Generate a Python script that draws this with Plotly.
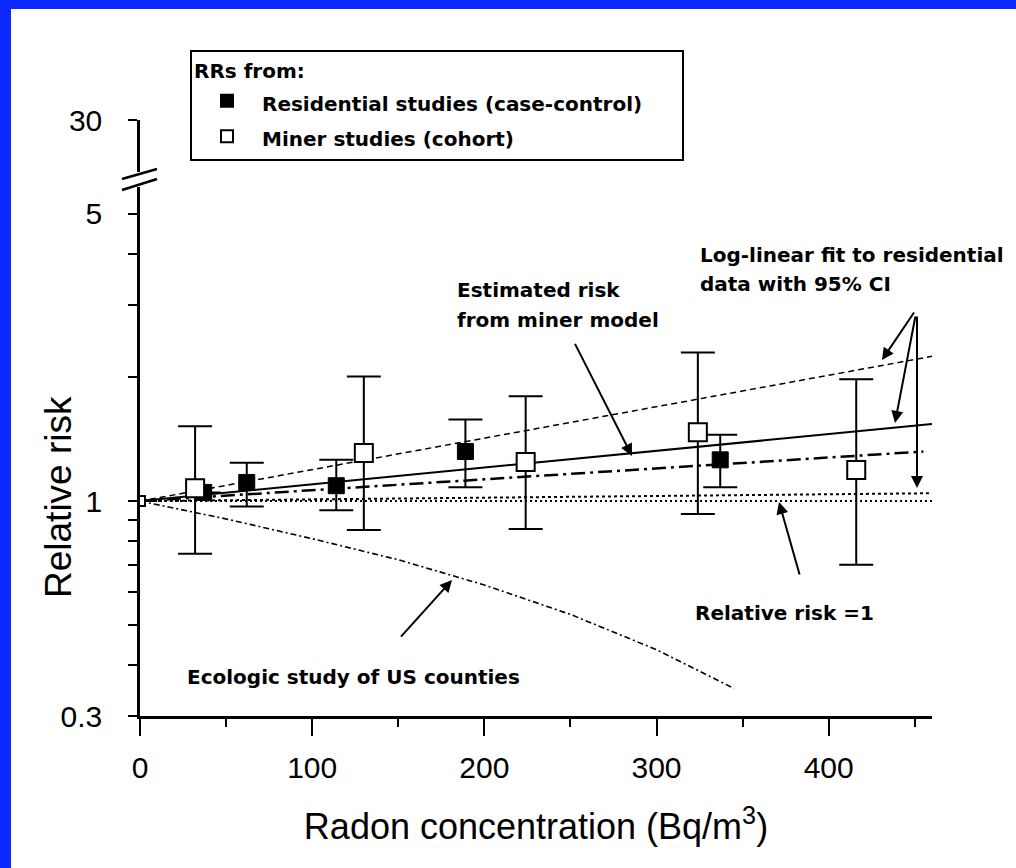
import math
import plotly.graph_objects as go

# ---------------- data ----------------
res_x = [37, 62, 114, 189, 337]
res_y = [1.05, 1.11, 1.09, 1.32, 1.26]
res_hi = [None, 1.24, 1.26, 1.58, 1.45]
res_lo = [None, 0.97, 0.95, 1.08, 1.08]

min_x = [32, 130, 224, 324, 416]
min_y = [1.075, 1.31, 1.245, 1.47, 1.19]
min_hi = [1.52, 2.01, 1.80, 2.30, 1.98]
min_lo = [0.745, 0.85, 0.855, 0.93, 0.70]

ref_x = [0]
ref_y = [1.0]

miner_model_x = [0, 230, 460]
miner_model_y = [1.0, 1.24, 1.54]
fit_x = [0, 455]
fit_y = [1.0, 1.32]
fit_hi_x = [0, 460]
fit_hi_y = [1.0, 2.25]
fit_lo_x = [0, 460]
fit_lo_y = [1.0, 1.045]
rr1_x = [0, 460]
rr1_y = [1.0, 1.0]
eco_x = [0, 50, 100, 150, 200, 250, 300, 345]
eco_y = [1.0, 0.905, 0.81, 0.72, 0.625, 0.53, 0.435, 0.35]

x_ticks = [0, 100, 200, 300, 400]
x_minor = [50, 150, 250, 350, 450]
y_ticks = [0.3, 1, 5]
y_tick_text = ["0.3", "1", "5"]
y_minor = [0.4, 0.5, 0.6, 0.7, 0.8, 0.9, 2, 3, 4]
y_top_ticks = [30]
y_top_text = ["30"]

# ---------------- geometry helpers (layout only) ----------------
L, T, R, B = 140, 120, 84, 152
W, H = 1016, 868
PW, PH = W - L - R, H - T - B
X_MAX = 460
PX_DEC = 411.0
Y_BOTTOM_PX = 716
MAIN_TOP_PX = 187
UP_BOT_PX = 172
ylo = math.log10(0.3)
yhi = ylo + (Y_BOTTOM_PX - MAIN_TOP_PX) / PX_DEC
BLUE = "rgb(12,40,255)"


def xd(px):
    return (px - L) * X_MAX / PW


def yl(py):
    return ylo + (Y_BOTTOM_PX - py) / PX_DEC


def xp(px):
    return (px - L) / PW


def yp(py):
    return (Y_BOTTOM_PX - py) / PH


def errs(y, hi, lo):
    up = [None if h is None else h - v for v, h in zip(y, hi)]
    dn = [None if l is None else v - l for v, l in zip(y, lo)]
    return up, dn


fig = go.Figure()

line_specs = [
    (eco_x, eco_y, dict(color="black", width=1.6, dash="6px,3px,2px,3px")),
    (rr1_x, rr1_y, dict(color="black", width=2, dash="2px,3px")),
    (fit_lo_x, fit_lo_y, dict(color="black", width=2, dash="3px,3px")),
    (fit_hi_x, fit_hi_y, dict(color="black", width=1.5, dash="6px,4px")),
    (fit_x, fit_y, dict(color="black", width=2.5, dash="14px,5px,3px,5px")),
    (miner_model_x, miner_model_y, dict(color="black", width=2)),
]
for xs, ys, ln in line_specs:
    fig.add_trace(go.Scatter(x=xs, y=ys, mode="lines", line=ln,
                             showlegend=False, hoverinfo="skip"))

NB = "\u00a0"
up, dn = errs(res_y, res_hi, res_lo)
fig.add_trace(go.Scatter(
    x=res_x, y=res_y, mode="markers",
    name="<span style='font-size:20px'>Residential studies (case-control)"
         + NB * 5 + "</span>",
    marker=dict(symbol="square", size=16, color="black",
                line=dict(color="black", width=1)),
    error_y=dict(type="data", symmetric=False, array=up, arrayminus=dn,
                 color="black", thickness=2, width=17),
))
up, dn = errs(min_y, min_hi, min_lo)
fig.add_trace(go.Scatter(
    x=min_x, y=min_y, mode="markers",
    name="<span style='font-size:20px'>Miner studies (cohort)</span>",
    marker=dict(symbol="square", size=18, color="white",
                line=dict(color="black", width=2)),
    error_y=dict(type="data", symmetric=False, array=up, arrayminus=dn,
                 color="black", thickness=2, width=17),
))
fig.add_trace(go.Scatter(
    x=ref_x, y=ref_y, mode="markers", showlegend=False, hoverinfo="skip",
    marker=dict(symbol="square", size=10, color="white",
                line=dict(color="black", width=2)),
))
# empty trace so the upper (broken) part of the y axis is drawn
fig.add_trace(go.Scatter(x=[], y=[], yaxis="y2", mode="markers",
                         showlegend=False, hoverinfo="skip"))

ann_font = dict(family="DejaVu Sans", size=20, color="black", weight="bold")
texts = [
    ("Estimated risk", 455, 290),
    ("from miner model", 455, 320),
    ("Log-linear fit to residential", 698, 255),
    ("data with 95% CI", 698, 284),
    ("Relative risk =1", 693, 613),
    ("Ecologic study of US counties", 185, 677),
]
annotations = []
for t, px, py in texts:
    annotations.append(dict(text=t, x=xd(px), y=yl(py), xref="x", yref="y",
                            xanchor="left", yanchor="middle", showarrow=False,
                            font=ann_font))

arrows = [
    ((572, 338), (632, 456)),
    ((917, 308), (882, 360)),
    ((917, 308), (895, 423)),
    ((917, 308), (917, 488)),
    ((802, 583), (779, 502)),
    ((398, 640), (452, 580)),
]
for (tx, ty), (hx, hy) in arrows:
    annotations.append(dict(text=" ", x=xd(hx), y=yl(hy), ax=xd(tx), ay=yl(ty),
                            xref="x", yref="y", axref="x", ayref="y",
                            showarrow=True, arrowhead=2, arrowsize=1.2,
                            arrowwidth=2, arrowcolor="black",
                            standoff=0, startstandoff=0))

annotations.append(dict(text="Relative risk", textangle=-90,
                        x=xp(58), y=yp(497), xref="paper", yref="paper",
                        xanchor="center", yanchor="middle", showarrow=False,
                        font=dict(family="Liberation Sans, Arial", size=37,
                                  color="black")))

shapes = [
    dict(type="rect", xref="paper", yref="paper", x0=xp(11), x1=xp(1100),
         y0=yp(1000), y1=yp(9), fillcolor="white", line=dict(width=0),
         layer="below"),
    dict(type="line", xref="paper", yref="paper", x0=xp(122), y0=yp(179),
         x1=xp(157), y1=yp(169), line=dict(color="black", width=2.5)),
    dict(type="line", xref="paper", yref="paper", x0=xp(122), y0=yp(190),
         x1=xp(157), y1=yp(179), line=dict(color="black", width=2.5)),
]

tick_font = dict(family="Liberation Sans, Arial", size=30, color="black")

fig.update_layout(
    width=W, height=H,
    margin=dict(l=L, r=R, t=T, b=B, autoexpand=False),
    paper_bgcolor=BLUE,
    plot_bgcolor="white",
    font=dict(family="Liberation Sans, Arial", color="black"),
    showlegend=True,
    legend=dict(
        x=xp(190), y=yp(50), xanchor="left", yanchor="top",
        bgcolor="white", bordercolor="black", borderwidth=2,
        font=dict(family="DejaVu Sans", size=25, color="black", weight="bold"),
        title=dict(text="RRs from:", font=dict(family="DejaVu Sans", size=20,
                                                  color="black", weight="bold")),
        itemsizing="constant", itemwidth=60,
    ),
    xaxis=dict(
        range=[0, X_MAX], showline=True, linecolor="black", linewidth=2.5,
        showgrid=False, zeroline=False, ticks="outside", tickvals=x_ticks,
        ticklen=17, tickwidth=2, tickcolor="black", tickfont=tick_font,
        ticklabelstandoff=6,
        minor=dict(tickvals=x_minor, ticks="outside", ticklen=8, tickwidth=2,
                   tickcolor="black"),
        title=dict(text="Radon concentration (Bq/m<sup>3</sup>)",
                   font=dict(family="Liberation Sans, Arial", size=36,
                             color="black"), standoff=32),
        automargin=False,
    ),
    yaxis=dict(
        type="log", range=[ylo, yhi], domain=[0, yp(MAIN_TOP_PX)],
        showline=True, linecolor="black", linewidth=2.5, showgrid=False,
        zeroline=False, ticks="outside", tickvals=y_ticks,
        ticktext=y_tick_text, ticklen=9, tickwidth=2, tickcolor="black",
        tickfont=tick_font, ticklabelstandoff=20, anchor="x",
        minor=dict(tickvals=y_minor, ticks="outside", ticklen=9, tickwidth=2,
                   tickcolor="black"),
        automargin=False,
    ),
    yaxis2=dict(
        type="log", range=[math.log10(30) - (UP_BOT_PX - T) / PX_DEC,
                           math.log10(30) + 0.0008],
        domain=[yp(UP_BOT_PX), 1], anchor="x",
        showline=True, linecolor="black", linewidth=2.5, showgrid=False,
        zeroline=False, ticks="outside", tickvals=y_top_ticks,
        ticktext=y_top_text, ticklen=9, tickwidth=2, tickcolor="black",
        tickfont=tick_font, ticklabelstandoff=20, automargin=False,
    ),
    yaxis3=dict(
        type="log", range=[ylo, yhi], overlaying="y", anchor="x", side="left",
        showline=False, showgrid=False, zeroline=False, ticks="outside",
        tickvals=[1], ticklen=17, tickwidth=2, tickcolor="black",
        showticklabels=False, automargin=False,
    ),
    annotations=annotations,
    shapes=shapes,
)

fig.write_html(
    "out.html",
    config={"displayModeBar": False},
    post_script=("document.body.style.margin='0px';"
                 "document.body.style.overflow='hidden';"
                 "document.body.style.background='white';"),
)
